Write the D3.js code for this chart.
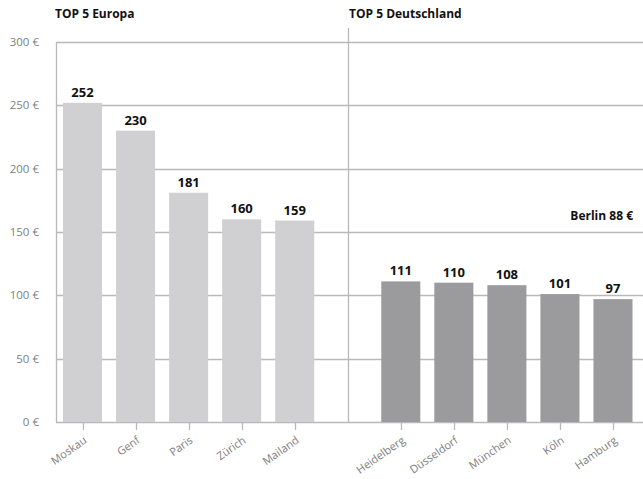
<!DOCTYPE html>
<html>
<head>
<meta charset="utf-8">
<script src="https://cdn.jsdelivr.net/npm/d3@7"></script>
<style>
  body { margin: 0; background: #fff; }
  svg { display: block; font-family: "Open Sans", "Noto Sans", sans-serif; }
</style>
</head>
<body>
<div id="chart"></div>
<script>
const europeCities = ["Moskau", "Genf", "Paris", "Zürich", "Mailand"];
const europeValues = [252, 230, 181, 160, 159];
const germanCities = ["Heidelberg", "Düsseldorf", "München", "Köln", "Hamburg"];
const germanValues = [111, 110, 108, 101, 97];
const yTicks = [0, 50, 100, 150, 200, 250, 300];
const groupTitles = ["TOP 5 Europa", "TOP 5 Deutschland"];
const berlinNote = "Berlin 88 €";

const W = 643, H = 479;
const margin = { left: 56, right: 4, top: 42, bottom: 57 };

const svg = d3.select("#chart").append("svg").attr("width", W).attr("height", H);

const gap = "__gap__";
const domain = [...europeCities, gap, ...germanCities];
const x = d3.scaleBand().domain(domain).range([margin.left, 639.5]).paddingInner(0.264).paddingOuter(0.132);
const y = d3.scaleLinear().domain([0, 300]).range([H - margin.bottom, margin.top]);

const gridCol = "#b9b9b9";

// gridlines
svg.append("g").selectAll("line").data(yTicks).join("line")
  .attr("x1", margin.left).attr("x2", W)
  .attr("y1", d => Math.round(y(d)) + 0.5).attr("y2", d => Math.round(y(d)) + 0.5)
  .attr("stroke", gridCol).attr("stroke-width", 1.3);

// left axis line
svg.append("line").attr("x1", margin.left + 0.5).attr("x2", margin.left + 0.5)
  .attr("y1", y(300)).attr("y2", y(0)).attr("stroke", gridCol).attr("stroke-width", 1.3);

// divider
const divX = Math.round(x(gap) + x.bandwidth() / 2) + 0.5;
svg.append("line").attr("x1", divX).attr("x2", divX)
  .attr("y1", 28).attr("y2", y(0)).attr("stroke", gridCol).attr("stroke-width", 1.3);

// y tick labels
svg.append("g").selectAll("text").data(yTicks).join("text")
  .attr("x", 39).attr("y", d => y(d) + 4)
  .attr("text-anchor", "end").attr("font-size", 11.5).attr("fill", "#808080")
  .text(d => d + " €");

const europe = europeCities.map((c, i) => ({ c, v: europeValues[i], col: "#d0d0d2" }));
const german = germanCities.map((c, i) => ({ c, v: germanValues[i], col: "#9b9b9d" }));
const all = [...europe, ...german];

svg.append("g").selectAll("rect").data(all).join("rect")
  .attr("x", d => x(d.c)).attr("width", x.bandwidth())
  .attr("y", d => y(d.v)).attr("height", d => y(0) - y(d.v))
  .attr("fill", d => d.col);

// value labels
svg.append("g").selectAll("text").data(all).join("text")
  .attr("x", d => x(d.c) + x.bandwidth() / 2).attr("y", d => y(d.v) - 6)
  .attr("text-anchor", "middle").attr("font-size", 13).attr("font-weight", "bold").attr("fill", "#111")
  .text(d => d.v);

// x ticks
svg.append("g").selectAll("line").data(all).join("line")
  .attr("x1", d => Math.round(x(d.c) + x.bandwidth() / 2) + 0.5).attr("x2", d => Math.round(x(d.c) + x.bandwidth() / 2) + 0.5)
  .attr("y1", y(0)).attr("y2", y(0) + 8).attr("stroke", gridCol).attr("stroke-width", 1.3);

// x labels
svg.append("g").selectAll("text").data(all).join("text")
  .attr("transform", d => `translate(${x(d.c) + x.bandwidth() / 2 + 5},${y(0) + 20}) rotate(-35)`)
  .attr("text-anchor", "end").attr("font-size", 11).attr("fill", "#808080")
  .text(d => d.c);

// titles
svg.append("text").attr("x", 55).attr("y", 18).attr("font-size", 12).attr("font-weight", "bold").attr("fill", "#111").text(groupTitles[0]);
svg.append("text").attr("x", 349).attr("y", 18).attr("font-size", 12).attr("font-weight", "bold").attr("fill", "#111").text(groupTitles[1]);
svg.append("text").attr("x", 633).attr("y", 220).attr("text-anchor", "end").attr("font-size", 12).attr("font-weight", "bold").attr("fill", "#111").text(berlinNote);
</script>
</body>
</html>
